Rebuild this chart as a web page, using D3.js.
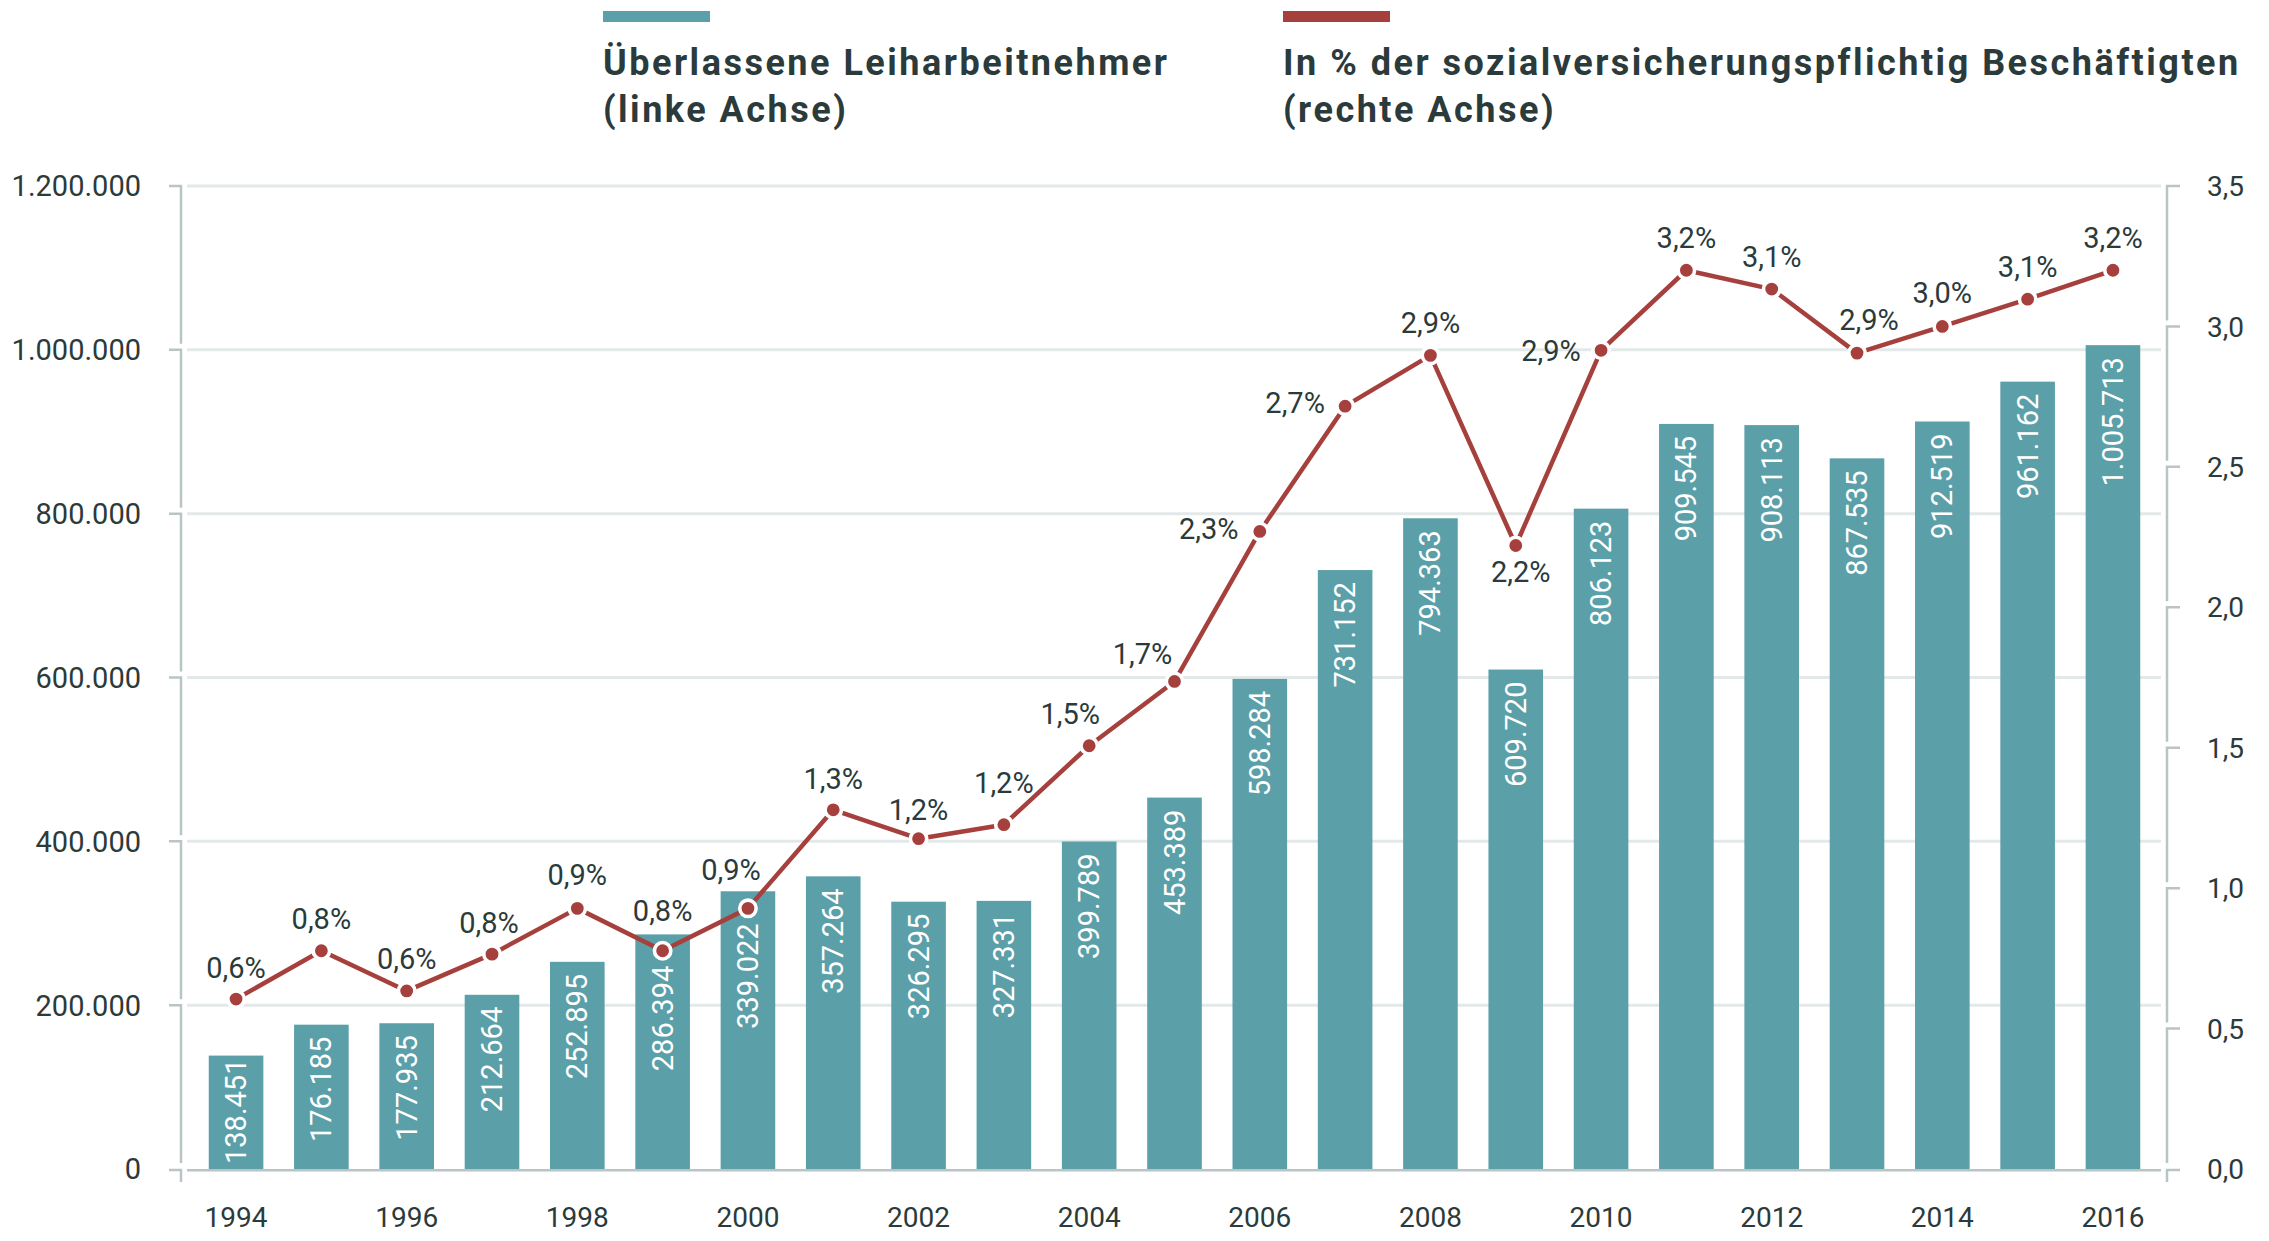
<!DOCTYPE html>
<html><head><meta charset="utf-8">
<script src="https://cdn.jsdelivr.net/npm/d3@7"></script>
<style>
html,body{margin:0;padding:0;background:#fff;}
svg{display:block;}
</style></head>
<body>
<svg id="chart" width="2269" height="1241"></svg>
<script>
const years = [1994,1995,1996,1997,1998,1999,2000,2001,2002,2003,2004,2005,2006,2007,2008,2009,2010,2011,2012,2013,2014,2015,2016];
const workers = [138451,176185,177935,212664,252895,286394,339022,357264,326295,327331,399789,453389,598284,731152,794363,609720,806123,909545,908113,867535,912519,961162,1005713];
const share = [0.605,0.777,0.634,0.765,0.928,0.777,0.928,1.279,1.176,1.226,1.507,1.736,2.27,2.716,2.897,2.22,2.915,3.2,3.133,2.905,3.0,3.097,3.2];
const shareLabels = ["0,6%","0,8%","0,6%","0,8%","0,9%","0,8%","0,9%","1,3%","1,2%","1,2%","1,5%","1,7%","2,3%","2,7%","2,9%","2,2%","2,9%","3,2%","3,1%","2,9%","3,0%","3,1%","3,2%"];
const leftTicks = [0,200000,400000,600000,800000,1000000,1200000];
const rightTicks = [0,0.5,1,1.5,2,2.5,3,3.5];
const yearTicks = [1994,1996,1998,2000,2002,2004,2006,2008,2010,2012,2014,2016];
const legendItems = [
  {lines:["Überlassene Leiharbeitnehmer","(linke Achse)"]},
  {lines:["In % der sozialversicherungspflichtig Beschäftigten","(rechte Achse)"]}
];
// label nudges (layout only): [dx, dy] of label centre/baseline relative to marker
const labelNudge = [[0,-21],[0,-22],[0,-22],[-3,-21],[0,-23],[0,-30],[-17,-28],[0,-21],[0,-19],[0,-32],[-19,-22],[-32,-17],[-51,8],[-50,7],[0,-22],[5,37],[-50,11],[0,-22],[0,-22],[12,-23],[0,-23],[0,-22],[0,-22]];

const TEAL = "#5b9fa8", RED = "#a6403d", TXT = "#2b3a3a", AX = "#b9c5c5", GRID = "#e3e8e8";
const svg = d3.select("#chart");
const plotL = 187, plotR = 2161, yTop = 186, yBot = 1169, axL = 181, axR = 2167;

const x = d3.scaleBand().domain(years).range([193.4, 2155.6]).paddingInner(0.36).paddingOuter(0.18);
const yL = d3.scaleLinear().domain([0,1200000]).range([yBot, yTop]);
const yR = d3.scaleLinear().domain([0,3.5]).range([yBot, yTop]);
const fmtInt = v => d3.format(",")(v).replace(/,/g,".");
const fmtDec = v => d3.format(".1f")(v).replace(".",",");

// gridlines
svg.append("g").selectAll("line").data(leftTicks.filter(d=>d>0)).join("line")
  .attr("x1",plotL).attr("x2",plotR).attr("y1",d=>yL(d)).attr("y2",d=>yL(d))
  .attr("stroke",GRID).attr("stroke-width",3);

// left axis (segmented)
const gL = svg.append("g");
for (let i=leftTicks.length-1;i>=0;i--){
  const yt = yL(leftTicks[i]) + (i===0 ? 1 : 0);
  const yb = i===0 ? yBot+13 : yL(leftTicks[i-1]) - 6;
  gL.append("path").attr("d",`M${axL-12},${yt}H${axL}V${yb}`).attr("fill","none").attr("stroke",AX).attr("stroke-width",2.5);
}
gL.selectAll("text").data(leftTicks).join("text")
  .attr("x",141).attr("y",d=>yL(d)).attr("dy","0.36em").attr("text-anchor","end")
  .attr("font-family","Roboto").attr("font-size",29).attr("fill",TXT)
  .text(fmtInt);

// right axis
const gR = svg.append("g");
for (let i=rightTicks.length-1;i>=0;i--){
  const yt = yR(rightTicks[i]) + (i===0 ? 1 : 0);
  const yb = i===0 ? yBot+13 : yR(rightTicks[i-1]) - 6;
  gR.append("path").attr("d",`M${axR+13},${yt}H${axR}V${yb}`).attr("fill","none").attr("stroke",AX).attr("stroke-width",2.5);
}
gR.selectAll("text").data(rightTicks).join("text")
  .attr("x",2207).attr("y",d=>yR(d)).attr("dy","0.36em").attr("text-anchor","start")
  .attr("font-family","Roboto").attr("font-size",28).attr("fill",TXT)
  .text(fmtDec);

// bars
svg.append("g").selectAll("rect").data(years).join("rect")
  .attr("x",d=>x(d)).attr("width",x.bandwidth())
  .attr("y",(d,i)=>yL(workers[i])).attr("height",(d,i)=>yBot-yL(workers[i]))
  .attr("fill",TEAL);

// baseline
svg.append("line").attr("x1",plotL).attr("x2",plotR).attr("y1",yBot+1.2).attr("y2",yBot+1.2).attr("stroke",AX).attr("stroke-width",2.5);

// bar value labels
const bl = svg.append("g");
years.forEach((yr,i)=>{
  const cx = x(yr)+x.bandwidth()/2;
  const t = bl.append("text").attr("font-family","Roboto").attr("font-size",29).attr("fill","#fff")
    .attr("dominant-baseline","central").text(fmtInt(workers[i]));
  const len = t.node().getComputedTextLength();
  const top = yL(workers[i]);
  const my = yR(share[i]);
  let endY = top + 12;
  if (my > top - 8 && my + 15 > endY) endY = my + 15;   // keep clear of marker inside bar
  if (endY + len > yBot - 5) endY = yBot - 5 - len;
  t.attr("text-anchor","end").attr("transform",`translate(${cx},${endY}) rotate(-90)`);
});

// year labels
svg.append("g").selectAll("text").data(yearTicks).join("text")
  .attr("x",d=>x(d)+x.bandwidth()/2).attr("y",1227).attr("text-anchor","middle")
  .attr("font-family","Roboto").attr("font-size",28).attr("fill",TXT).text(d=>d);

// line
const line = d3.line().x((d,i)=>x(years[i])+x.bandwidth()/2).y(d=>yR(d));
svg.append("path").datum(share).attr("d",line).attr("fill","none").attr("stroke",RED).attr("stroke-width",4.5).attr("stroke-linejoin","round");
svg.append("g").selectAll("circle").data(share).join("circle")
  .attr("cx",(d,i)=>x(years[i])+x.bandwidth()/2).attr("cy",d=>yR(d)).attr("r",8.2)
  .attr("fill",RED).attr("stroke","#fff").attr("stroke-width",3.6);
svg.append("g").selectAll("text").data(share).join("text")
  .attr("x",(d,i)=>x(years[i])+x.bandwidth()/2+labelNudge[i][0])
  .attr("y",(d,i)=>yR(d)+labelNudge[i][1])
  .attr("text-anchor","middle").attr("font-family","Roboto").attr("font-size",29).attr("fill",TXT)
  .text((d,i)=>shareLabels[i]);

// legend
const legX = [603, 1283], legCol = [TEAL, RED];
legendItems.forEach((it,k)=>{
  svg.append("rect").attr("x",legX[k]).attr("y",11).attr("width",107).attr("height",11).attr("fill",legCol[k]);
  it.lines.forEach((ln,j)=>{
    svg.append("text").attr("x",legX[k]).attr("y",75+j*47).attr("font-family","Roboto").attr("font-weight",700)
      .attr("font-size",36).attr("letter-spacing","2.5px").attr("fill",TXT).text(ln);
  });
});
</script>
</body></html>
